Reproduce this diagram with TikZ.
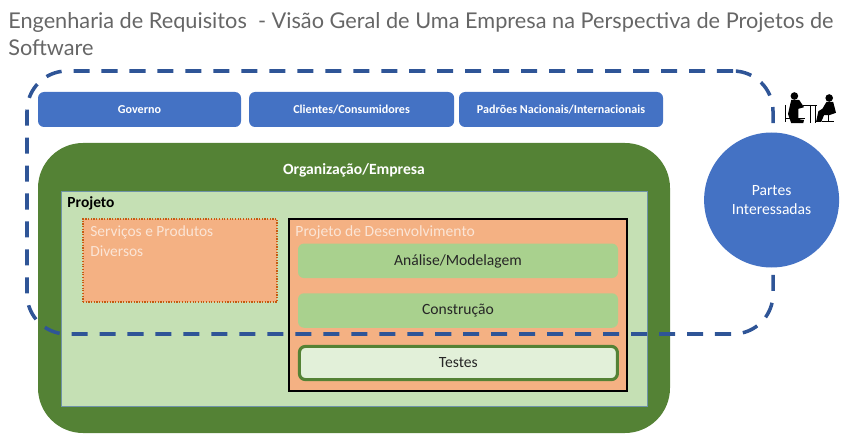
\documentclass[tikz,border=0pt]{standalone}
\usepackage{fontspec}
\setmainfont{Carlito}
\newfontfamily\titlefont{Lato}
\definecolor{bluefill}{HTML}{4472C4}
\definecolor{dashblue}{HTML}{2F5597}
\definecolor{darkgreen}{HTML}{548235}
\definecolor{palegreen}{HTML}{C5E0B4}
\definecolor{midgreen}{HTML}{A9D18E}
\definecolor{lightgreen}{HTML}{E2F0D9}
\definecolor{salmon}{HTML}{F4B183}
\definecolor{peach}{HTML}{FBE5D6}
\definecolor{rust}{HTML}{C55A11}
\definecolor{slateline}{HTML}{6F93A8}
\tikzset{
    bluebox/.style={fill=bluefill, draw=none, rounded corners=0.15cm, text=white, font=\fontsize{8.6}{10}\selectfont\bfseries, minimum height=0.875cm},
    stagebox/.style={fill=midgreen, draw=none, rounded corners=0.15cm, text=black!85, font=\fontsize{11.1}{13}\selectfont, minimum width=8cm, minimum height=0.8625cm},
    pad/.style={anchor=west, inner sep=0pt}
}
\begin{document}
\begin{tikzpicture}
    \useasboundingbox (0,0) rectangle (21.325,-11);
    % title
    \node[pad, text=black!60, font=\fontsize{15.45}{18}\selectfont\titlefont] (title1) at (0.2,-0.55) {Engenharia de Requisitos\ \ - Visão Geral de Uma Empresa na Perspectiva de Projetos de};
    \node[pad, text=black!60, font=\fontsize{15.45}{18}\selectfont\titlefont] (title2) at (0.2,-1.2) {Software};

    % outside the company
    \node[bluebox, minimum width=5.075cm] (governo) at (3.4875,-2.7375) {Governo};
    \node[bluebox, minimum width=5.125cm] (clientes) at (8.79,-2.7375) {Clientes/Consumidores};
    \node[bluebox, minimum width=5.1cm] (padroes) at (14.025,-2.7375) {Padrões Nacionais/Internacionais};

    % company and project
    \node[fill=darkgreen, rounded corners=1.125cm, minimum width=15.8cm, minimum height=7.25cm] (empresa) at (8.85,-7.2) {};
    \node[fill=palegreen, draw=slateline, line width=0.4pt, minimum width=14.66cm, minimum height=5.375cm] (projeto) at (8.856,-7.4625) {};
    \node[text=white, font=\fontsize{11.1}{13}\selectfont\bfseries] (empresatxt) at (8.85,-4.25) {Organização/Empresa};
    \node[pad, text=black, font=\fontsize{11}{13}\selectfont\bfseries] (projetotxt) at (1.68,-5.08) {Projeto};

    \node[fill=salmon, draw=rust, densely dotted, line width=0.9pt, minimum width=4.85cm, minimum height=2.075cm] (servicos) at (4.5,-6.5125) {};
    \node[pad, text=peach, align=left, font=\fontsize{11}{14.2}\selectfont] (servicostxt) at (2.25,-6.03) {Serviços e Produtos\\Diversos};

    \node[fill=salmon, draw=black, line width=1.2pt, minimum width=8.45cm, minimum height=4.3cm] (dev) at (11.45,-7.625) {};
    \node[pad, text=peach, font=\fontsize{11.1}{13}\selectfont] (devtxt) at (7.38,-5.8) {Projeto de Desenvolvimento};
    \node[stagebox, text depth=0.06cm] (analise) at (11.45,-6.52) {Análise/Modelagem};
    \node[stagebox, text depth=0.06cm] (construcao) at (11.45,-7.7625) {Construção};
    \node[stagebox, fill=lightgreen, draw=darkgreen, line width=2.2pt, minimum width=7.95cm, minimum height=0.83cm] (testes) at (11.46,-9.075) {Testes};

    % stakeholders boundary
    \node[draw=dashblue, line width=2.5pt, rounded corners=1cm, dash pattern=on 11.4pt off 8.5pt, minimum width=18.65cm, minimum height=6.575cm] (limite) at (10,-5.0625) {};
    \node[circle, fill=bluefill, text=white, align=center, minimum size=3.375cm, inner sep=0pt, font=\fontsize{11.1}{13.6}\selectfont] (partes) at (19.29,-5.0) {Partes\\Interessadas};

    % people at the desk
    \fill[black] (19.86,-2.4) circle (0.095);
    \fill[black] (19.78,-2.5) -- (19.98,-2.5) -- (20.1,-2.68) -- (19.96,-2.72) -- (19.96,-2.98) -- (20.1,-3.0) -- (20.08,-3.08) -- (19.78,-3.08) -- (19.7,-2.85) -- cycle;
    \draw[black, line width=0.5pt] (19.63,-2.62) -- (19.63,-3.05) (19.63,-2.95) -- (20.13,-2.95) (19.98,-3.08) -- (19.98,-2.95) (20.08,-2.63) -- (20.43,-2.63) (20.26,-2.62) -- (20.26,-3.08) (20.38,-2.62) -- (20.38,-3.08);
    \fill[black] (20.73,-2.45) circle (0.095);
    \fill[black] (20.66,-2.55) -- (20.83,-2.55) -- (20.9,-2.82) -- (20.73,-2.88) -- (20.6,-2.88) -- (20.53,-3.05) -- (20.4,-3.05) -- (20.46,-2.78) -- (20.56,-2.72) -- cycle;
    \draw[black, line width=0.5pt] (20.7,-2.88) -- (20.7,-3.05) (20.56,-3.03) -- (20.86,-3.03);
\end{tikzpicture}
\end{document}
